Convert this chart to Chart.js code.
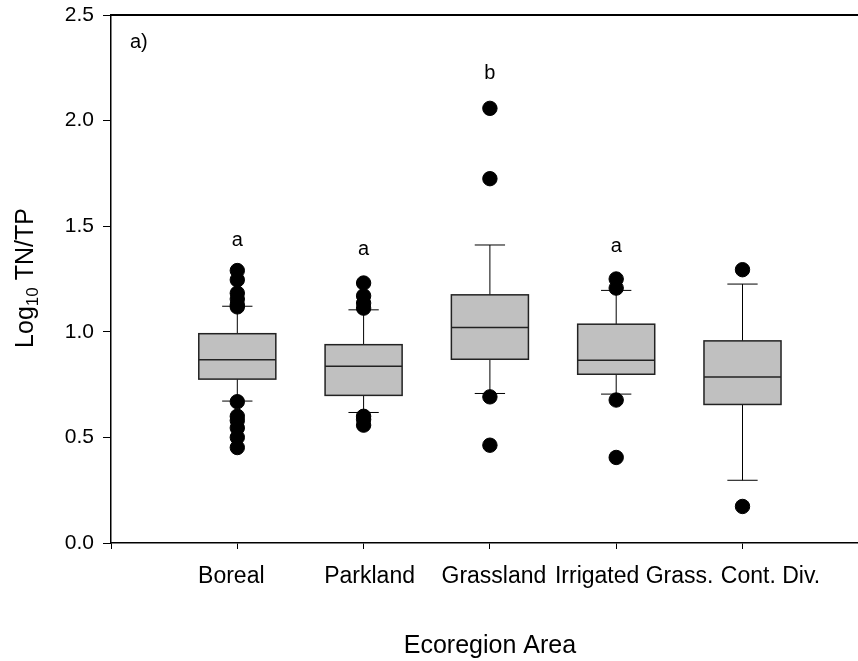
<!DOCTYPE html>
<html>
<head>
    <title>Log10 TN/TP por ecorregión</title>
    <script src="https://cdn.jsdelivr.net/npm/chart.js@4.4.1/dist/chart.umd.min.js"></script>
</head>
<body>
    <div class="chart-container">
        <canvas id="boxChart" width="877" height="661"></canvas>
    </div>
    <script>
        // datos
        const categories = ['Boreal', 'Parkland', 'Grassland', 'Irrigated Grass.', 'Cont. Div.'];
        const q1 = [0.776, 0.699, 0.870, 0.799, 0.656];
        const median = [0.868, 0.837, 1.020, 0.865, 0.786];
        const q3 = [0.991, 0.939, 1.175, 1.036, 0.957];
        const whiskerLow = [0.672, 0.618, 0.708, 0.705, 0.297];
        const whiskerHigh = [1.121, 1.104, 1.411, 1.196, 1.226];
        const outliers = [
            [1.290, 1.246, 1.183, 1.155, 1.128, 1.118, 0.669, 0.600, 0.580, 0.545, 0.500, 0.452],
            [1.231, 1.170, 1.136, 1.112, 0.600, 0.585, 0.558],
            [2.058, 1.725, 0.692, 0.463],
            [1.250, 1.207, 0.677, 0.405],
            [1.294, 0.173]
        ];
        const sigLetters = ['a', 'a', 'b', 'a', ''];
        const sigLetterY = [1.405, 1.365, 2.196, 1.378, 0];
        const yTicks = [0, 0.5, 1.0, 1.5, 2.0, 2.5];

        const boxWidth = 0.61;   // en unidades del eje x
        const capWidth = 0.24;
        // desplazamiento horizontal (px) de cada etiqueta, como en el original
        const labelShift = [-6, 6, 4, 18, 28];
        const fuente = '"Liberation Sans", Arial, sans-serif';

        var puntos = [];
        outliers.forEach((lista, i) => {
            lista.forEach(v => puntos.push({ x: i + 1, y: v }));
        });

        // cajas, bigotes, letras, etiquetas y titulo del eje y
        const boxPlugin = {
            id: 'boxPlugin',
            beforeDatasetsDraw(chart) {
                const ctx = chart.ctx;
                const xs = chart.scales.x;
                const ys = chart.scales.y;
                ctx.save();
                categories.forEach((c, i) => {
                    const xc = xs.getPixelForValue(i + 1);
                    const x0 = xs.getPixelForValue(i + 1 - boxWidth / 2);
                    const x1 = xs.getPixelForValue(i + 1 + boxWidth / 2);
                    const c0 = xs.getPixelForValue(i + 1 - capWidth / 2);
                    const c1 = xs.getPixelForValue(i + 1 + capWidth / 2);
                    const yq1 = ys.getPixelForValue(q1[i]);
                    const yq3 = ys.getPixelForValue(q3[i]);
                    const ym = ys.getPixelForValue(median[i]);
                    const ylo = ys.getPixelForValue(whiskerLow[i]);
                    const yhi = ys.getPixelForValue(whiskerHigh[i]);

                    // bigotes
                    ctx.strokeStyle = '#000';
                    ctx.lineWidth = 1;
                    ctx.beginPath();
                    ctx.moveTo(xc, yq3); ctx.lineTo(xc, yhi);
                    ctx.moveTo(c0, yhi); ctx.lineTo(c1, yhi);
                    ctx.moveTo(xc, yq1); ctx.lineTo(xc, ylo);
                    ctx.moveTo(c0, ylo); ctx.lineTo(c1, ylo);
                    ctx.stroke();

                    // caja
                    ctx.fillStyle = '#c0c0c0';
                    ctx.fillRect(x0, yq3, x1 - x0, yq1 - yq3);
                    ctx.strokeStyle = '#222';
                    ctx.lineWidth = 1.5;
                    ctx.strokeRect(x0, yq3, x1 - x0, yq1 - yq3);
                    ctx.beginPath();
                    ctx.moveTo(x0, ym); ctx.lineTo(x1, ym);
                    ctx.stroke();

                    ctx.fillStyle = '#000';
                    ctx.textAlign = 'center';
                    ctx.textBaseline = 'alphabetic';
                    // letras de significancia
                    if (sigLetters[i]) {
                        ctx.font = '20px ' + fuente;
                        ctx.fillText(sigLetters[i], xc, ys.getPixelForValue(sigLetterY[i]));
                    }
                    // etiqueta de categoria
                    ctx.font = '23px ' + fuente;
                    ctx.fillText(c, xc + labelShift[i], ys.getPixelForValue(0) + 40);
                });
                ctx.restore();
            },
            afterDraw(chart) {
                const ctx = chart.ctx;
                const area = chart.chartArea;
                ctx.save();
                // linea superior
                ctx.strokeStyle = '#000';
                ctx.lineWidth = 2;
                ctx.beginPath();
                ctx.moveTo(area.left, area.top);
                ctx.lineTo(area.right, area.top);
                ctx.stroke();

                // etiqueta del panel
                ctx.fillStyle = '#000';
                ctx.font = '20px ' + fuente;
                ctx.textAlign = 'left';
                ctx.textBaseline = 'alphabetic';
                ctx.fillText('a)', area.left + 19, area.top + 33);

                // titulo del eje y con subindice
                ctx.translate(33, 278);
                ctx.rotate(-Math.PI / 2);
                const big = '25px ' + fuente;
                const small = '17px ' + fuente;
                ctx.font = big;
                const w1 = ctx.measureText('Log').width;
                const w3 = ctx.measureText(' TN/TP').width;
                ctx.font = small;
                const w2 = ctx.measureText('10').width;
                let x = -(w1 + w2 + w3) / 2;
                ctx.font = big;
                ctx.fillText('Log', x, 0);
                x += w1;
                ctx.font = small;
                ctx.fillText('10', x, 5);
                x += w2;
                ctx.font = big;
                ctx.fillText(' TN/TP', x, 0);
                ctx.restore();
            }
        };

        var ctx = document.getElementById('boxChart').getContext('2d');
        var myChart = new Chart(ctx, {
            type: 'scatter',
            data: {
                datasets: [{
                    data: puntos,
                    backgroundColor: '#000',
                    borderColor: '#000',
                    pointRadius: 7.2,
                    pointHoverRadius: 7.2
                }]
            },
            options: {
                responsive: false,
                animation: false,
                layout: { padding: { top: 15, right: 0, left: 0, bottom: 0 } },
                plugins: {
                    legend: { display: false },
                    tooltip: { enabled: false }
                },
                scales: {
                    x: {
                        type: 'linear',
                        min: 0,
                        max: 6,
                        afterFit: s => { s.height = 118; s.paddingLeft = 0; s.paddingRight = 0; },
                        afterBuildTicks: s => { s.ticks = [0, 1, 2, 3, 4, 5, 6].map(v => ({ value: v })); },
                        grid: { drawOnChartArea: false, color: '#000', tickLength: 6 },
                        border: { color: '#000', width: 1.5 },
                        ticks: {
                            autoSkip: false,
                            maxRotation: 0,
                            padding: 14,
                            color: '#000',
                            font: { family: fuente, size: 23 },
                            callback: () => ''   // las etiquetas se dibujan en el plugin
                        },
                        title: {
                            display: true,
                            text: 'Ecoregion Area',
                            color: '#000',
                            font: { family: fuente, size: 25 },
                            padding: { top: 0, bottom: 0 }
                        }
                    },
                    y: {
                        min: 0,
                        max: 2.5,
                        afterFit: s => { s.width = 111; s.paddingTop = 0; s.paddingBottom = 0; },
                        afterBuildTicks: s => { s.ticks = yTicks.map(v => ({ value: v })); },
                        grid: { drawOnChartArea: false, color: '#000', tickLength: 8 },
                        border: { color: '#000', width: 1.5 },
                        ticks: {
                            padding: 9,
                            color: '#000',
                            font: { family: fuente, size: 21 },
                            callback: v => v.toFixed(1)
                        }
                    }
                }
            },
            plugins: [boxPlugin]
        });
    </script>
    <style>
        body {
            margin: 0;
            padding: 0;
            overflow: hidden;
            background-color: white;
        }
        .chart-container {
            width: 877px;
            height: 661px;
        }
    </style>
</body>
</html>
